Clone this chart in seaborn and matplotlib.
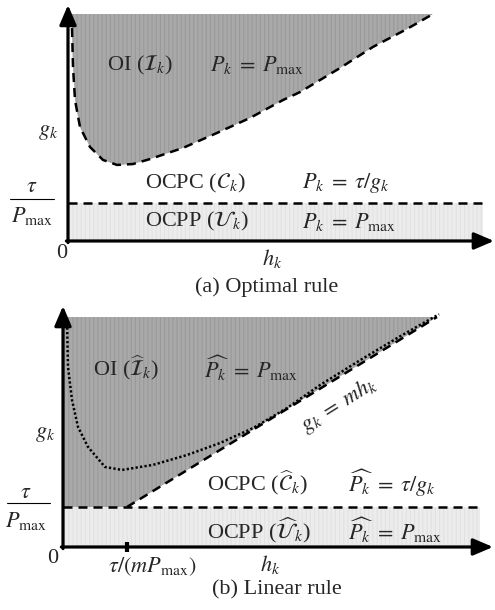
import matplotlib
matplotlib.use("Agg")
import matplotlib.pyplot as plt
import seaborn as sns

# Panel (a), optimal rule: boundary of the OI region (h_k, g_k in axis units)
h_opt = [0.01, 0.0125, 0.0175, 0.03, 0.055, 0.0875, 0.1225, 0.1625, 0.205, 0.2875,
         0.3725, 0.455, 0.5375, 0.58, 0.68, 0.7625, 0.8475, 0.9125]
g_opt = [0.938, 0.767, 0.621, 0.502, 0.414, 0.357, 0.335, 0.339, 0.361, 0.41,
         0.476, 0.542, 0.621, 0.656, 0.762, 0.855, 0.934, 1.0]
thr_a = 0.167          # tau / Pmax
band_end_a = 1.0375

# Panel (b), linear rule: optimal boundary (dotted) and g_k = m h_k (dashed)
h_dot = [0.01, 0.0125, 0.0225, 0.0375, 0.0625, 0.105, 0.1475, 0.225, 0.31, 0.3925,
         0.475, 0.56, 0.6425, 0.7425, 0.8425, 0.94]
g_dot = [0.974, 0.783, 0.639, 0.522, 0.435, 0.348, 0.335, 0.357, 0.4, 0.452,
         0.517, 0.604, 0.704, 0.812, 0.916, 1.012]
thr_b = 0.174
h_lin = [0.16, 0.935]  # starts at tau/(m Pmax)
g_lin = [0.174, 1.0]
band_end_b = 1.0425

labels_a = [r"OI ($\mathcal{I}_k$)", r"$P_k\;=\;P_{\max}$",
            r"OCPC ($\mathcal{C}_k$)", r"$P_k\;=\;\tau/g_k$",
            r"OCPP ($\mathcal{U}_k$)", r"$P_k\;=\;P_{\max}$"]
labels_b = [r"OI ($\widehat{\mathcal{I}}_k$)", r"$\widehat{P_k}\;=\;P_{\max}$",
            r"OCPC ($\widehat{\mathcal{C}}_k$)", r"$\widehat{P_k}\;=\;\tau/g_k$",
            r"OCPP ($\widehat{\mathcal{U}}_k$)", r"$\widehat{P_k}\;=\;P_{\max}$"]

sns.set_style("white")
plt.rcParams["font.family"] = ["Liberation Serif", "DejaVu Serif"]
plt.rcParams["mathtext.fontset"] = "stix"
plt.rcParams["font.size"] = 16
plt.rcParams["hatch.linewidth"] = 0.8

DARK, DARK_HATCH = "#a9a9a9", "#9a9a9a"
LIGHT, LIGHT_HATCH = "#ececec", "#e2e2e2"
DASH = (0, (3.6, 2.4))
LW = 1.8

fig = plt.figure(figsize=(4.95, 6.10), dpi=100)
ax_a = fig.add_axes([0, 310 / 610, 1, 300 / 610])
ax_b = fig.add_axes([0, 0, 1, 310 / 610])


def shade(ax, xs, ys, face, hatch_col):
    ax.fill(xs, ys, color=face, lw=0, zorder=1)
    ax.fill(xs, ys, facecolor="none", edgecolor=hatch_col, hatch="||||", lw=0, zorder=1)


def axes_arrows(ax, xtip, ytip):
    arrow = dict(arrowstyle="-|>,head_length=0.75,head_width=0.32", color="black",
                 lw=2.3, shrinkA=0, shrinkB=0)
    ax.annotate("", xy=(xtip, 0), xytext=(-0.004, 0), arrowprops=arrow,
                annotation_clip=False, zorder=5)
    ax.annotate("", xy=(0, ytip), xytext=(0, -0.007), arrowprops=arrow,
                annotation_clip=False, zorder=5)


def tau_over_pmax(ax, x, y_num, y_bar, y_den, x0, x1):
    ax.text(x, y_num, r"$\tau$", ha="center", va="baseline")
    ax.plot([x0, x1], [y_bar, y_bar], color="black", lw=0.8, clip_on=False)
    ax.text(x, y_den, r"$P_{\max}$", ha="center", va="baseline")


# ---------------- (a) Optimal rule ----------------
ax = ax_a
shade(ax, [0, band_end_a, band_end_a, 0], [0, 0, thr_a, thr_a], LIGHT, LIGHT_HATCH)
shade(ax, h_opt + [h_opt[0]], g_opt + [1.0], DARK, DARK_HATCH)
sns.lineplot(x=h_opt, y=g_opt, sort=False, estimator=None, color="black",
             lw=LW, linestyle=DASH, ax=ax, zorder=3)
sns.lineplot(x=[0, band_end_a], y=[thr_a, thr_a], color="black", lw=LW,
             linestyle=DASH, ax=ax, zorder=3)
axes_arrows(ax, 1.065, 1.04)

for txt, (x, y) in zip(labels_a, [(0.0975, 0.775), (0.355, 0.775),
                                  (0.1925, 0.255), (0.585, 0.255),
                                  (0.1925, 0.084), (0.585, 0.084)]):
    ax.text(x, y, txt, ha="left", va="center", zorder=6)
ax.text(-0.05, 0.48, r"$g_k$", ha="center", va="center")
tau_over_pmax(ax, -0.09, 0.216, 0.184, 0.084, -0.145, -0.035)
ax.text(-0.015, -0.053, "0", ha="center", va="center")
ax.text(0.51, -0.075, r"$h_k$", ha="center", va="center")
ax.text(0.4975, -0.203, "(a) Optimal rule", ha="center", va="center")
ax.set_xlim(-0.17, 1.0675)
ax.set_ylim(-0.26, 1.0617)
ax.set_axis_off()

# ---------------- (b) Linear rule ----------------
ax = ax_b
shade(ax, [0, band_end_b, band_end_b, 0], [0, 0, thr_b, thr_b], LIGHT, LIGHT_HATCH)
shade(ax, [0, 0, h_lin[0], h_lin[1]], [1.0, thr_b, g_lin[0], g_lin[1]], DARK, DARK_HATCH)
sns.lineplot(x=h_lin, y=g_lin, color="black", lw=LW, linestyle=DASH, ax=ax, zorder=3)
sns.lineplot(x=[0, band_end_b], y=[thr_b, thr_b], color="black", lw=LW,
             linestyle=DASH, ax=ax, zorder=3)
sns.lineplot(x=h_dot, y=g_dot, sort=False, estimator=None, color="black",
             lw=LW, linestyle=(0, (0.9, 0.9)), ax=ax, zorder=4)
axes_arrows(ax, 1.075, 1.048)
ax.plot([h_lin[0]], [0], marker="|", ms=7, mew=3, color="black", zorder=6,
        clip_on=False)

for txt, (x, y) in zip(labels_b, [(0.075, 0.778), (0.3525, 0.778),
                                  (0.36, 0.278), (0.7125, 0.278),
                                  (0.36, 0.074), (0.7125, 0.074)]):
    ax.text(x, y, txt, ha="left", va="center", zorder=6)
ax.text(0.69, 0.62, r"$g_k\;=\;mh_k$", ha="center", va="center", rotation=32,
        rotation_mode="anchor")
ax.text(-0.045, 0.487, r"$g_k$", ha="center", va="center")
tau_over_pmax(ax, -0.092, 0.213, 0.191, 0.087, -0.14, -0.0325)
ax.text(-0.025, -0.048, "0", ha="center", va="center")
ax.text(0.2225, -0.087, r"$\tau/(mP_{\max})$", ha="center", va="center")
ax.text(0.5175, -0.078, r"$h_k$", ha="center", va="center")
ax.text(0.535, -0.185, "(b) Linear rule", ha="center", va="center")
ax.set_xlim(-0.1575, 1.08)
ax.set_ylim(-0.274, 1.074)
ax.set_axis_off()

fig.savefig("out.png", dpi=100)
